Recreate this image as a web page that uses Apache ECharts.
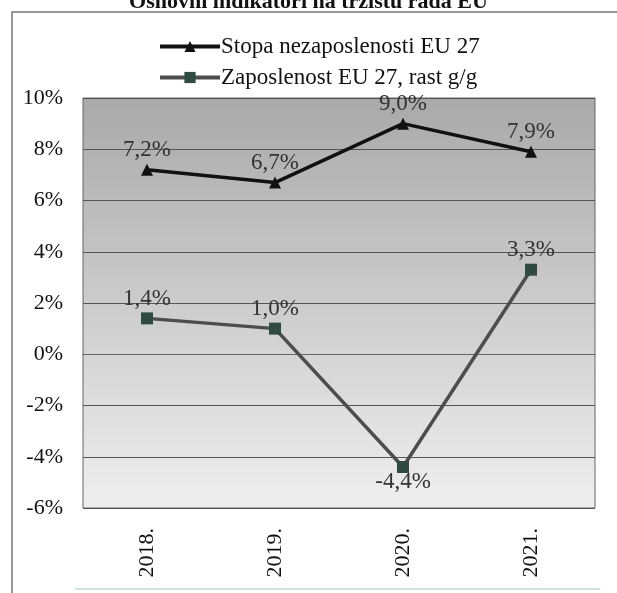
<!DOCTYPE html>
<html><head><meta charset="utf-8">
<script src="https://cdn.jsdelivr.net/npm/echarts@6/dist/echarts.min.js"></script>
<style>html,body{margin:0;padding:0;background:#fff}#c{width:617px;height:593px}</style>
</head><body><div id="c"></div>
<script>
const categories = ['2018.', '2019.', '2020.', '2021.'];
const unemployment = [7.2, 6.7, 9.0, 7.9];
const employment = [1.4, 1.0, -4.4, 3.3];
const yTicks = [-6, -4, -2, 0, 2, 4, 6, 8, 10];
const seriesNames = ['Stopa nezaposlenosti EU 27', 'Zaposlenost EU 27, rast g/g'];
const titleText = 'Osnovni indikatori na tržištu rada EU';

const font = '"Liberation Serif", "DejaVu Serif", serif';
const fmt = v => v.toFixed(1).replace('.', ',') + '%';
const chart = echarts.init(document.getElementById('c'), null, {renderer: 'canvas'});
chart.setOption({
  animation: false,
  backgroundColor: '#fff',
  title: {text: titleText, left: 'center', top: -14, textStyle: {fontFamily: font, fontSize: 22, fontWeight: 'bold', color: '#111'}},
  graphic: [
    {type: 'rect', shape: {x: 12, y: 12, width: 640, height: 600}, style: {fill: 'none', stroke: '#777', lineWidth: 1.5}, z: -1},
    {type: 'line', shape: {x1: 75, y1: 589, x2: 600, y2: 589}, style: {stroke: '#cfe3dc', lineWidth: 2}, z: -1}
  ],
  legend: {
    orient: 'vertical', left: 153, top: 30, itemGap: 7, itemWidth: 60, itemHeight: 14, itemGap: 8,
    textStyle: {fontFamily: font, fontSize: 23, color: '#111', padding: [0, 0, 0, -4]},
    lineStyle: {width: 4},
    data: seriesNames
  },
  grid: {left: 83, right: 22, top: 98, bottom: 85, show: true, borderColor: '#666', borderWidth: 1,
    backgroundColor: new echarts.graphic.LinearGradient(0, 0, 0, 1, [{offset: 0, color: '#a9a9a9'}, {offset: 1, color: '#efefef'}])},
  xAxis: {
    type: 'category', data: categories, boundaryGap: true,
    axisLine: {lineStyle: {color: '#666'}}, axisTick: {show: false},
    axisLabel: {rotate: 90, fontFamily: font, fontSize: 22, color: '#111', margin: 20}
  },
  yAxis: {
    type: 'value', min: yTicks[0], max: yTicks[yTicks.length - 1], interval: 2,
    axisLine: {show: false}, axisTick: {show: false},
    splitLine: {lineStyle: {color: '#555', width: 1}},
    axisLabel: {formatter: v => v + '%', fontFamily: font, fontSize: 22, color: '#111', margin: 20}
  },
  series: [
    {name: seriesNames[0], type: 'line', data: unemployment, symbol: 'triangle', symbolSize: 12,
      lineStyle: {color: '#111', width: 3.5}, itemStyle: {color: '#111'},
      label: {show: true, position: 'top', distance: 2, formatter: p => fmt(p.value), fontFamily: font, fontSize: 23, color: '#333'}},
    {name: seriesNames[1], type: 'line', data: employment.map(v => v < 0 ? {value: v, label: {position: 'bottom', distance: -3}} : v), symbol: 'rect', symbolSize: 12,
      lineStyle: {color: '#4d4d4d', width: 3.5}, itemStyle: {color: '#2f4a40'},
      label: {show: true, position: 'top', distance: 2, formatter: p => fmt(p.value), fontFamily: font, fontSize: 23, color: '#333'}}
  ]
});
</script></body></html>
